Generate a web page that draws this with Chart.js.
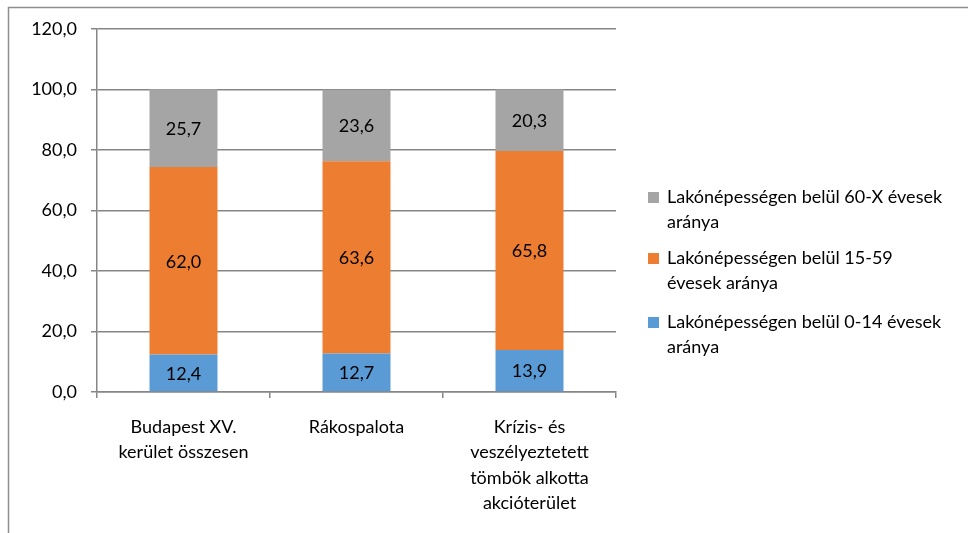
<!DOCTYPE html>
<html>
<head>
<meta charset="utf-8">
<script src="https://cdn.jsdelivr.net/npm/chart.js@4/dist/chart.umd.min.js"></script>
<style>
  html, body { margin: 0; padding: 0; background: #fff; }
  #wrap { position: relative; width: 968px; height: 533px; }
</style>
</head>
<body>
<div id="wrap"><canvas id="c" width="968" height="533"></canvas></div>
<script>
const categories = [
  ["Budapest XV.", "kerület összesen"],
  "Rákospalota",
  ["Krízis- és", "veszélyeztetett", "tömbök alkotta", "akcióterület"]
];
const age0_14 = [12.4, 12.7, 13.9];
const age15_59 = [62.0, 63.6, 65.8];
const age60plus = [25.7, 23.6, 20.3];
const seriesNames = [
  ["Lakónépességen belül 0-14 évesek", "aránya"],
  ["Lakónépességen belül 15-59", "évesek aránya"],
  ["Lakónépességen belül 60-X évesek", "aránya"]
];
const seriesColors = ["#5B9BD5", "#ED7D31", "#A5A5A5"];
const yTicks = { min: 0, max: 120, step: 20 };

const FONT = "Lato, 'Open Sans', sans-serif";
const FS = 18;
const fmt = v => Number(v).toFixed(1).replace('.', ',');

const frame = {
  id: 'frame',
  beforeDraw(chart) {
    const ctx = chart.ctx;
    ctx.save();
    ctx.strokeStyle = '#8f8f8f';
    ctx.lineWidth = 1.5;
    ctx.beginPath();
    ctx.moveTo(8.5, 540);
    ctx.lineTo(8.5, 7.5);
    ctx.lineTo(980, 7.5);
    ctx.stroke();
    ctx.restore();
  }
};

const valueLabels = {
  id: 'valueLabels',
  afterDatasetsDraw(chart) {
    const ctx = chart.ctx;
    ctx.save();
    ctx.font = FS + "px " + FONT;
    ctx.fillStyle = '#000';
    ctx.textAlign = 'center';
    ctx.textBaseline = 'middle';
    chart.data.datasets.forEach((ds, di) => {
      const meta = chart.getDatasetMeta(di);
      meta.data.forEach((el, i) => {
        const y = (el.y + el.base) / 2;
        ctx.fillText(fmt(ds.data[i]), el.x, y + 1);
      });
    });
    ctx.restore();
  }
};

const sideLegend = {
  id: 'sideLegend',
  afterDraw(chart) {
    const ctx = chart.ctx;
    ctx.save();
    ctx.font = FS + "px " + FONT;
    ctx.textBaseline = 'middle';
    ctx.textAlign = 'left';
    const order = [2, 1, 0];
    const tops = [197, 258, 322];
    order.forEach((di, k) => {
      const ds = chart.data.datasets[di];
      const y = tops[k];
      ctx.fillStyle = ds.backgroundColor;
      ctx.fillRect(648, y - 5, 11, 11);
      ctx.fillStyle = '#000';
      seriesNames[di].forEach((line, li) => {
        ctx.fillText(line, 667, y + li * 25.5);
      });
    });
    ctx.restore();
  }
};

new Chart(document.getElementById('c'), {
  type: 'bar',
  data: {
    labels: categories,
    datasets: [
      { label: seriesNames[0].join(' '), data: age0_14, backgroundColor: seriesColors[0] },
      { label: seriesNames[1].join(' '), data: age15_59, backgroundColor: seriesColors[1] },
      { label: seriesNames[2].join(' '), data: age60plus, backgroundColor: seriesColors[2] }
    ]
  },
  options: {
    responsive: false,
    animation: false,
    devicePixelRatio: 1,
    layout: { padding: { left: 0, top: 29, right: 352, bottom: 0 } },
    datasets: { bar: { categoryPercentage: 1, barPercentage: 0.393, borderWidth: 0 } },
    plugins: { legend: { display: false }, tooltip: { enabled: false } },
    scales: {
      x: {
        stacked: true,
        grid: { drawOnChartArea: false, drawTicks: true, tickLength: 6, color: '#868686', lineWidth: 1.5 },
        border: { display: true, color: '#868686', width: 1.5 },
        ticks: { color: '#000', font: { family: FONT, size: FS, lineHeight: 1.42 }, padding: 16, maxRotation: 0, autoSkip: false },
        afterFit(s) { s.height = 533 - 392; }
      },
      y: {
        stacked: true,
        min: yTicks.min, max: yTicks.max,
        grid: { color: '#868686', lineWidth: 1.5, tickLength: 6 },
        border: { display: true, color: '#868686', width: 1.5 },
        ticks: { stepSize: yTicks.step, color: '#000', font: { family: FONT, size: FS }, padding: 14, callback: v => fmt(v) },
        afterFit(s) { s.width = 97; }
      }
    }
  },
  plugins: [frame, valueLabels, sideLegend]
});
</script>
</body>
</html>
